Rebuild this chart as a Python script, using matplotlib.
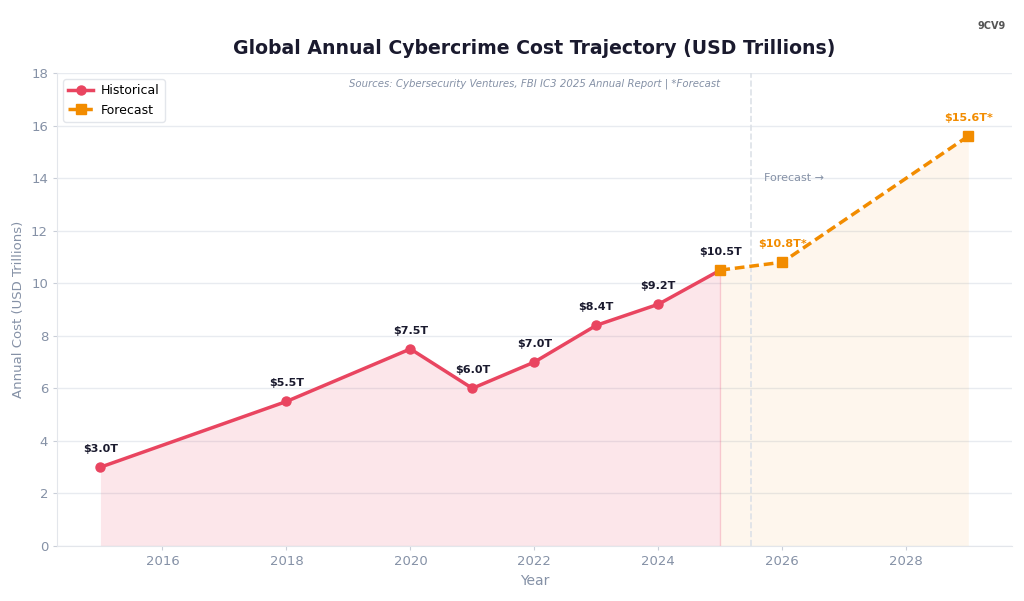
import numpy as np
import matplotlib.pyplot as plt

hist_years = [2015, 2018, 2020, 2021, 2022, 2023, 2024, 2025]
hist_cost = [3.0, 5.5, 7.5, 6.0, 7.0, 8.4, 9.2, 10.5]
fc_years = [2025, 2026, 2029]
fc_cost = [10.5, 10.8, 15.6]

red = '#e94560'
orange = '#f28c00'
dark = '#1a1a2e'
grey = '#8591a6'

fig = plt.figure(figsize=(10.24, 6.01), dpi=100)
ax = fig.add_axes([0.0557, 0.0915, 0.9323, 0.787])

ax.fill_between(hist_years, hist_cost, color=red, alpha=0.13, linewidth=0)
ax.fill_between(fc_years, fc_cost, color=orange, alpha=0.07, linewidth=0)
ax.plot([2025, 2025], [0, 10.5], color=red, alpha=0.2, linewidth=1)

ax.plot(hist_years, hist_cost, color=red, linewidth=2.5, marker='o', markersize=6.5,
        label='Historical', zorder=3)
ax.plot(fc_years, fc_cost, color=orange, linewidth=2.5, linestyle='--', marker='s',
        markersize=6.5, dashes=(2.8, 1.4), label='Forecast', zorder=4)

for x, y in zip(hist_years, hist_cost):
    ax.annotate(f'${y:.1f}T', (x, y), xytext=(0, 9.5), textcoords='offset points',
                ha='center', va='bottom', fontsize=8, fontweight='bold', color=dark)
for x, y in zip(fc_years[1:], fc_cost[1:]):
    ax.annotate(f'${y:.1f}T*', (x, y), xytext=(0, 9.5), textcoords='offset points',
                ha='center', va='bottom', fontsize=8, fontweight='bold', color=orange)

ax.axvline(2025.5, color='#dde1e7', linestyle='--', linewidth=1.2, zorder=1)
ax.text(2025.7, 14, 'Forecast →', fontsize=8, color=grey, va='center')

ax.set_ylim(0, 18)
ax.set_yticks(range(0, 19, 2))
ax.set_xticks(range(2016, 2029, 2))
ax.grid(axis='y', color='#e8ebf0', linewidth=1)
ax.set_axisbelow(True)
for s in ['top', 'right']:
    ax.spines[s].set_visible(False)
for s in ['left', 'bottom']:
    ax.spines[s].set_color('#e3e6eb')
ax.tick_params(colors='#c9ced8', labelcolor=grey, labelsize=9.5, length=3)

ax.set_xlabel('Year', fontsize=10, color=grey)
ax.set_ylabel('Annual Cost (USD Trillions)', fontsize=9.5, color=grey)

fig.suptitle('Global Annual Cybercrime Cost Trajectory (USD Trillions)', x=0.522, y=0.935,
             fontsize=13.6, fontweight='bold', color=dark)
ax.text(0.5, 0.988, 'Sources: Cybersecurity Ventures, FBI IC3 2025 Annual Report | *Forecast',
        transform=ax.transAxes, ha='center', va='top', fontsize=7.3, style='italic', color=grey)
fig.text(0.968, 0.952, '9CV9', fontsize=7, fontweight='bold', color='#555555', ha='center')

leg = ax.legend(loc='upper left', fontsize=9, framealpha=1, edgecolor='#e3e6eb',
                handletextpad=0.6)

fig.savefig('out.png', dpi=100)
